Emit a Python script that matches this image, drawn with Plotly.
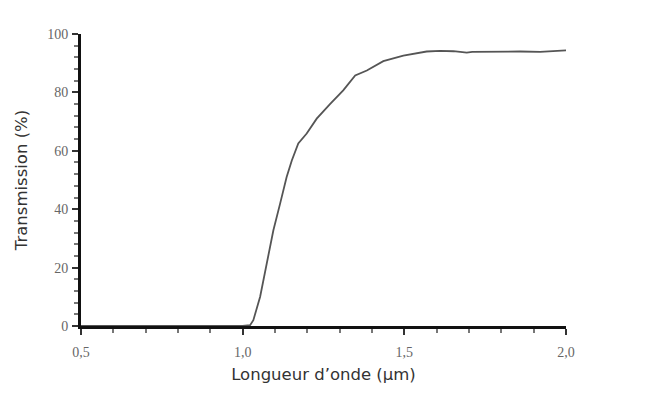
import plotly.graph_objects as go

# Transmission spectrum of the filter
wavelength_um = [0.50, 0.70, 0.90, 1.00, 1.023, 1.033, 1.054, 1.074, 1.095, 1.116, 1.136,
                 1.152, 1.172, 1.198, 1.229, 1.270, 1.311, 1.348, 1.384, 1.435,
                 1.497, 1.569, 1.610, 1.652, 1.675, 1.693, 1.710, 1.755, 1.800,
                 1.858, 1.920, 1.960, 2.002]
transmission_pct = [0.0, 0.0, 0.0, 0.0, 0.3, 2.0, 10.0, 21.4, 32.8, 42.0, 51.0,
                    56.7, 62.5, 65.9, 71.0, 76.0, 80.7, 85.8, 87.5, 90.7,
                    92.6, 94.0, 94.2, 94.1, 93.9, 93.6, 93.9, 94.0, 93.9,
                    94.0, 93.9, 94.1, 94.4]

x_ticks = [0.5, 1.0, 1.5, 2.0]
x_tick_labels = ["0,5", "1,0", "1,5", "2,0"]
y_ticks = [0, 20, 40, 60, 80, 100]
y_tick_labels = ["0", "20", "40", "60", "80", "100"]

fig = go.Figure()
fig.add_trace(go.Scatter(
    x=wavelength_um, y=transmission_pct, mode="lines",
    line=dict(color="#555555", width=1.8), showlegend=False,
))

tick_font = dict(family="Liberation Serif", size=14, color="#666666")
title_font = dict(family="DejaVu Sans", size=16.5, color="#333333")

fig.update_layout(
    width=647, height=394,
    margin=dict(l=81, r=81, t=34, b=68),
    paper_bgcolor="white", plot_bgcolor="white",
    xaxis=dict(
        range=[0.5, 2.0], tickvals=x_ticks, ticktext=x_tick_labels,
        showgrid=False, zeroline=False,
        showline=True, linecolor="#111111", linewidth=3,
        ticks="outside", ticklen=6, tickwidth=2, tickcolor="#333333",
        minor=dict(dtick=0.1, ticks="outside", ticklen=4, tickwidth=1.5, tickcolor="#777777"),
        tickfont=tick_font, ticklabelstandoff=5,
        title=dict(text="Longueur d’onde (µm)", font=title_font, standoff=10),
    ),
    yaxis=dict(
        range=[0, 100], tickvals=y_ticks, ticktext=y_tick_labels,
        showgrid=False, zeroline=False,
        showline=True, linecolor="#111111", linewidth=3,
        ticks="outside", ticklen=6, tickwidth=2, tickcolor="#333333",
        minor=dict(dtick=4, ticks="outside", ticklen=4, tickwidth=1.5, tickcolor="#777777"),
        tickfont=tick_font, ticklabelstandoff=1,
        title=dict(text="Transmission (%)", font=title_font, standoff=16),
    ),
)

fig.write_html("out.html")
